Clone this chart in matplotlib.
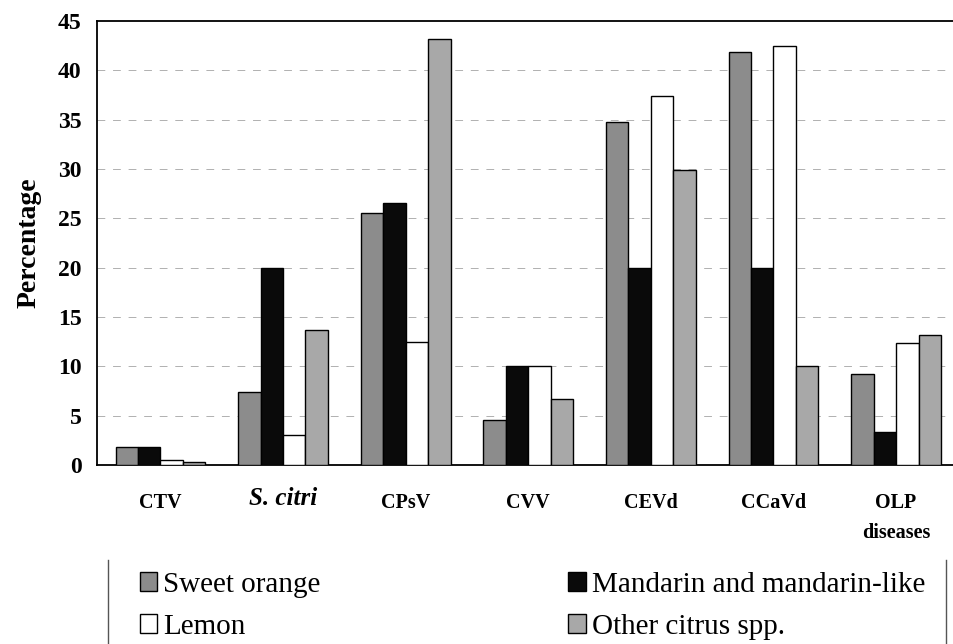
import numpy as np
import matplotlib.pyplot as plt
from matplotlib.lines import Line2D

plt.rcParams['font.family'] = ['Liberation Serif', 'DejaVu Serif']

categories = ['CTV', 'S. citri', 'CPsV', 'CVV', 'CEVd', 'CCaVd', 'OLP\ndiseases']
series_names = ['Sweet orange', 'Mandarin and mandarin-like', 'Lemon', 'Other citrus spp.']
sweet_orange = [1.8, 7.4, 25.5, 4.6, 34.8, 41.9, 9.2]
mandarin = [1.8, 20.0, 26.6, 10.0, 20.0, 20.0, 3.3]
lemon = [0.5, 3.0, 12.5, 10.0, 37.4, 42.5, 12.4]
other_citrus = [0.3, 13.7, 43.2, 6.7, 29.9, 10.0, 13.2]
y_ticks = [0, 5, 10, 15, 20, 25, 30, 35, 40, 45]


def main():
    fig = plt.figure(figsize=(9.54, 6.44), dpi=100)
    ax = fig.add_axes([97 / 954, 1 - 465 / 644, 1 - 97 / 954 + 0.01, (465 - 21) / 644])

    x = np.arange(len(categories))
    w = 0.183
    data = [sweet_orange, mandarin, lemon, other_citrus]
    colors = ['#8c8c8c', '#0a0a0a', '#ffffff', '#a8a8a8']
    bars = []
    for i, (vals, c) in enumerate(zip(data, colors)):
        b = ax.bar(x + (i - 1.5) * w, vals, w, color=c, edgecolor='black',
                   linewidth=1.0, zorder=3, label=series_names[i])
        bars.append(b)

    ax.set_xlim(-0.517, 6.55)
    ax.set_ylim(0, 45)
    ax.set_yticks(y_ticks)
    ax.set_yticklabels([str(t) for t in y_ticks], fontsize=17, fontweight='bold')
    ax.tick_params(axis='y', length=0, pad=11)
    ax.tick_params(axis='x', length=0, pad=20)
    ax.set_xticks(x)
    ax.set_xticklabels(categories, fontsize=14.5, fontweight='bold', linespacing=1.65,
                       va='top')
    # S. citri in italics
    lbl = ax.get_xticklabels()[1]
    lbl.set_fontstyle('italic')
    lbl.set_fontsize(18)
    lbl.set_y(0.012)

    for y in y_ticks[1:-1]:
        ax.axhline(y, color='#b0b0b0', linestyle=(0, (8, 8)), linewidth=0.7, zorder=1)

    ax.set_ylabel('Percentage', fontsize=20, fontweight='bold', labelpad=12)
    for s in ['left', 'bottom', 'top']:
        ax.spines[s].set_linewidth(1.3)
    ax.spines['right'].set_visible(False)

    handles = [bars[0], bars[2], bars[1], bars[3]]
    labels = [series_names[0], series_names[2], series_names[1], series_names[3]]
    fig.legend(handles, labels, ncol=2, frameon=False, fontsize=21,
               loc='upper left', bbox_to_anchor=(128 / 954, 1 - 560 / 644),
               handlelength=0.6, handleheight=0.6, handletextpad=0.2,
               columnspacing=8.5, labelspacing=0.55, borderaxespad=0)

    fig.add_artist(Line2D([108 / 954, 108 / 954], [0, 1 - 560 / 644], color='#555555', linewidth=1.0))
    fig.add_artist(Line2D([946 / 954, 946 / 954], [0, 1 - 560 / 644], color='#555555', linewidth=1.0))

    fig.savefig('out.png', dpi=100)


if __name__ == '__main__':
    main()
